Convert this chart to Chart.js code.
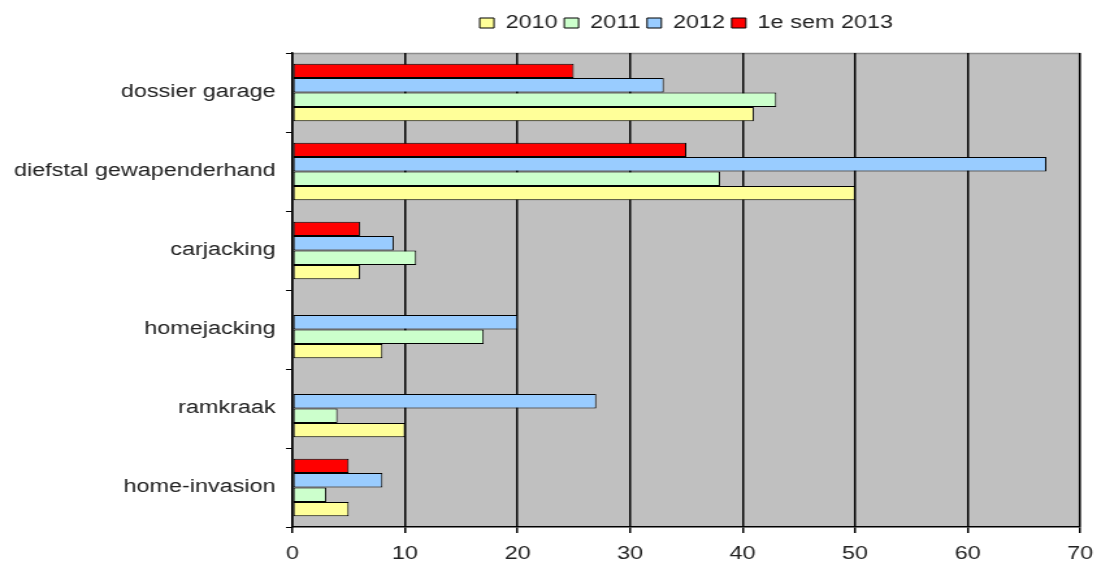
<!DOCTYPE html>
<html>
<head>
<meta charset="utf-8">
<script src="https://cdn.jsdelivr.net/npm/chart.js@4/dist/chart.umd.min.js"></script>
<style>
html,body{margin:0;padding:0;background:#fff;overflow:hidden;}
#wrap{width:844px;height:561px;transform:scaleX(1.2998);transform-origin:0 0;}
#c{display:block;}
</style>
</head>
<body>
<div id="wrap"><canvas id="c" width="844" height="561"></canvas></div>
<script>
const categories = ["dossier garage", "diefstal gewapenderhand", "carjacking", "homejacking", "ramkraak", "home-invasion"];
const sem2013 = [25, 35, 6, null, null, 5];
const y2012 = [33, 67, 9, 20, 27, 8];
const y2011 = [43, 38, 11, 17, 4, 3];
const y2010 = [41, 50, 6, 8, 10, 5];
const xTicks = [0, 10, 20, 30, 40, 50, 60, 70];

const FONT = 'Liberation Sans, Arial, sans-serif';

const bgPlugin = {
  id: 'plotBg',
  beforeLayout(chart) {
    const l = chart.legend;
    if (l && !l._patched) {
      const f = l.fit;
      l.fit = function () { f.call(this); this.height = 44; };
      l._patched = true;
    }
  },
  beforeDraw(chart) {
    const {ctx, chartArea: a} = chart;
    ctx.save();
    ctx.fillStyle = '#C0C0C0';
    ctx.fillRect(a.left, a.top, a.right - a.left, a.bottom - a.top);
    ctx.strokeStyle = '#8c8c8c';
    ctx.lineWidth = 1.5;
    ctx.beginPath();
    ctx.moveTo(a.left, a.top + 0.5);
    ctx.lineTo(a.right - 0.5, a.top + 0.5);
    ctx.lineTo(a.right - 0.5, a.bottom);
    ctx.stroke();
    ctx.restore();
  }
};

const ds = (label, data, color) => ({
  label, data, backgroundColor: color, borderColor: '#000', borderWidth: 1,
  categoryPercentage: 0.73, barPercentage: 1.0, borderSkipped: false
});

new Chart(document.getElementById('c'), {
  type: 'bar',
  data: {
    labels: categories,
    datasets: [
      ds('1e sem 2013', sem2013, '#FF0000'),
      ds('2012', y2012, '#99CCFF'),
      ds('2011', y2011, '#CCFFCC'),
      ds('2010', y2010, '#FFFF99')
    ]
  },
  options: {
    indexAxis: 'y',
    responsive: false,
    animation: false,
    layout: {padding: {left: 0, right: 13, top: 9, bottom: 0}},
    plugins: {
      legend: {
        display: true,
        position: 'top',
        fullSize: false,
        reverse: true,
        labels: {
          boxWidth: 11,
          boxHeight: 10,
          padding: 5,
          color: '#222',
          font: {family: FONT, size: 18}
        }
      },
      tooltip: {enabled: false}
    },
    scales: {
      x: {
        min: 0, max: 70,
        afterBuildTicks(scale) { scale.ticks = xTicks.map(v => ({value: v})); },
        afterFit(scale) { scale.height = 34; scale.paddingLeft = 0; scale.paddingRight = 0; },
        grid: {color: '#000', lineWidth: 1.5, drawTicks: true, tickLength: 6, tickColor: '#000'},
        border: {display: true, color: '#000', width: 1.5},
        ticks: {color: '#222', padding: 10, font: {family: FONT, size: 18}}
      },
      y: {
        afterFit(scale) { scale.width = 225; scale.paddingTop = 0; scale.paddingBottom = 0; },
        grid: {drawOnChartArea: false, drawTicks: true, tickLength: 5, color: '#000', offset: true},
        border: {display: true, color: '#000', width: 1.5},
        ticks: {color: '#222', padding: 8, font: {family: FONT, size: 18}}
      }
    }
  },
  plugins: [bgPlugin]
});
</script>
</body>
</html>
